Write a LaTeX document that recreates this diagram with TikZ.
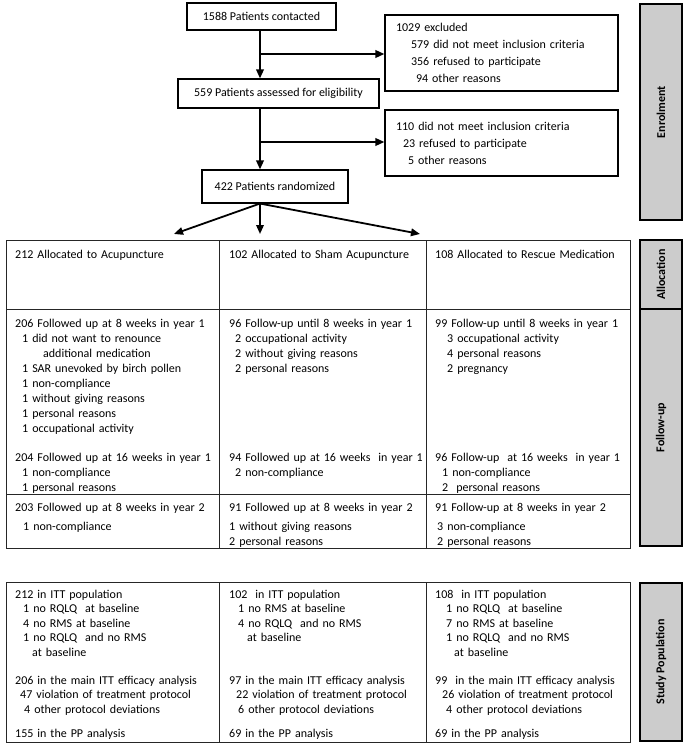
\documentclass[tikz,border=0pt]{standalone}
\usepackage{fontspec}
\setmainfont{Carlito}
\usetikzlibrary{arrows.meta}
\begin{document}
\begin{tikzpicture}
[x=1pt,y=-1pt,
  boxdecorate/.style={draw,line width=1.1pt,inner sep=0pt,font=\fontsize{12}{17}\selectfont},
  linedecorate/.style={-{Triangle[length=9pt,width=7.5pt]},line width=1.8pt},
  sidedecorate/.style={draw,line width=1.3pt,fill=black!20,rotate=90,minimum height=42pt,inner sep=0pt,font=\bfseries\fontsize{12}{14}\selectfont},
  griddecorate/.style={line width=0.9pt,draw=black!85},
  celldecorate/.style={anchor=base west,inner sep=0pt,align=left,text width=200pt,font=\fontsize{12}{15}\selectfont},
  studydecorate/.style={celldecorate,font=\fontsize{12}{14.5}\selectfont}]
\useasboundingbox (0,0) rectangle (685,752);
%% flow boxes
\node (contacted) at (261.5,16.5) [boxdecorate,minimum width=149pt,minimum height=27pt] {1588 Patients contacted};
\node (excluded) at (501.5,53) [boxdecorate,minimum width=233pt,minimum height=76pt,align=left,text width=211pt]
  {1029 excluded\\ \hspace*{15pt}579 did not meet inclusion criteria\\ \hspace*{15pt}356 refused to participate\\ \hspace*{20pt}94 other reasons};
\node (assessed) at (278.5,93.5) [boxdecorate,minimum width=201pt,minimum height=29pt] {559 Patients assessed for eligibility};
\node (ineligible) at (501.5,143) [boxdecorate,minimum width=233pt,minimum height=66pt,align=left,text width=211pt]
  {110 did not meet inclusion criteria\\ \hspace*{7pt}23 refused to participate\\ \hspace*{12pt}5 other reasons};
\node (randomized) at (275,186.5) [boxdecorate,minimum width=146pt,minimum height=33pt] {422 Patients randomized};
%% connectors
\coordinate (trunk) at (260,0);
\coordinate (split1) at (260,54);
\coordinate (split2) at (260,142);
\draw[linedecorate] (contacted.south -| trunk) -- (assessed.north -| trunk);
\draw[linedecorate] (split1) -- (split1 -| excluded.west);
\draw[linedecorate] (assessed.south -| trunk) -- (randomized.north -| trunk);
\draw[linedecorate] (split2) -- (split2 -| ineligible.west);
\foreach \armname/\x in {armA/174, armB/260, armC/420} {
  \coordinate (\armname) at (\x,234);
  \draw[linedecorate] (randomized.south -| trunk) -- (\armname);
}
%% side labels
\foreach \nodename/\sidetext/\ytop/\ybot in {enrol/Enrolment/4/220, alloc/Allocation/240/309,
  follow/Follow-up/309/546, study/Study Population/583/741} {
  \node (\nodename) at (661,{(\ytop+\ybot)/2}) [sidedecorate,minimum width={(\ybot-\ytop)*1pt}] {\sidetext};
}
%% table grid
\draw[griddecorate] (6,240) rectangle (630,548);
\draw[griddecorate] (6,309) -- (630,309) (6,494) -- (630,494);
\draw[griddecorate] (6,582) rectangle (630,742);
\foreach \x in {219,426} {
  \draw[griddecorate] (\x,240) -- (\x,548) (\x,582) -- (\x,742);
}
%% allocation row
\foreach \nodename/\x/\armtext in {allocA/15/212 Allocated to Acupuncture, allocB/229/102 Allocated to Sham Acupuncture,
  allocC/435/108 Allocated to Rescue Medication} {
  \node (\nodename) at (\x,258) [celldecorate] {\armtext};
}
%% follow-up rows
\node (weekA) at (15,327) [celldecorate] {206 Followed up at 8 weeks in year 1\\
  \hspace*{7pt}1 did not want to renounce\\ \hspace*{28pt}additional medication\\
  \hspace*{7pt}1 SAR unevoked by birch pollen\\ \hspace*{7pt}1 non-compliance\\
  \hspace*{7pt}1 without giving reasons\\ \hspace*{7pt}1 personal reasons\\ \hspace*{7pt}1 occupational activity};
\node (weekB) at (229,327) [celldecorate] {96 Follow-up until 8 weeks in year 1\\
  \hspace*{6pt}2 occupational activity\\ \hspace*{6pt}2 without giving reasons\\ \hspace*{6pt}2 personal reasons};
\node (weekC) at (435,327) [celldecorate] {99 Follow-up until 8 weeks in year 1\\
  \hspace*{12pt}3 occupational activity\\ \hspace*{12pt}4 personal reasons\\ \hspace*{12pt}2 pregnancy};
\node (sixteenA) at (15,461) [celldecorate] {204 Followed up at 16 weeks in year 1\\
  \hspace*{7pt}1 non-compliance\\ \hspace*{7pt}1 personal reasons};
\node (sixteenB) at (229,461) [celldecorate] {94 Followed up at 16 weeks\ \ in year 1\\
  \hspace*{6pt}2 non-compliance};
\node (sixteenC) at (435,461) [celldecorate] {96 Follow-up\ \ at 16 weeks\ \ in year 1\\
  \hspace*{7pt}1 non-compliance\\ \hspace*{7pt}2\ \ personal reasons};
\node (yearA) at (15,511) [celldecorate] {203 Followed up at 8 weeks in year 2\\[4pt]
  \hspace*{8pt}1 non-compliance};
\node (yearB) at (229,511) [celldecorate] {91 Followed up at 8 weeks in year 2\\[4pt]
  1 without giving reasons\\ 2 personal reasons};
\node (yearC) at (435,511) [celldecorate] {91 Follow-up at 8 weeks in year 2\\[4pt]
  \hspace*{2pt}3 non-compliance\\ \hspace*{2pt}2 personal reasons};
%% study population
\node (ittA) at (15,598) [studydecorate] {212 in ITT population\\
  \hspace*{8pt}1 no RQLQ\ \ at baseline\\ \hspace*{8pt}4 no RMS at baseline\\
  \hspace*{8pt}1 no RQLQ\ \ and no RMS\\ \hspace*{17pt}at baseline};
\node (ittB) at (229,598) [studydecorate] {102\ \ in ITT population\\
  \hspace*{9pt}1 no RMS at baseline\\ \hspace*{9pt}4 no RQLQ\ \ and no RMS\\ \hspace*{18pt}at baseline};
\node (ittC) at (435,598) [studydecorate] {108\ \ in ITT population\\
  \hspace*{11pt}1 no RQLQ\ \ at baseline\\ \hspace*{11pt}7 no RMS at baseline\\
  \hspace*{11pt}1 no RQLQ\ \ and no RMS\\ \hspace*{19pt}at baseline};
\node (mainA) at (15,684) [studydecorate] {206 in the main ITT efficacy analysis\\
  \hspace*{5pt}47 violation of treatment protocol\\ \hspace*{9pt}4 other protocol deviations};
\node (mainB) at (229,684) [studydecorate] {97 in the main ITT efficacy analysis\\
  \hspace*{7pt}22 violation of treatment protocol\\ \hspace*{9pt}6 other protocol deviations};
\node (mainC) at (435,684) [studydecorate] {99\ \ in the main ITT efficacy analysis\\
  \hspace*{7pt}26 violation of treatment protocol\\ \hspace*{11pt}4 other protocol deviations};
\foreach \nodename/\x/\pptext in {ppA/15/155 in the PP analysis, ppB/229/69 in the PP analysis, ppC/435/69 in the PP analysis} {
  \node (\nodename) at (\x,737) [studydecorate] {\pptext};
}
\end{tikzpicture}
\end{document}
